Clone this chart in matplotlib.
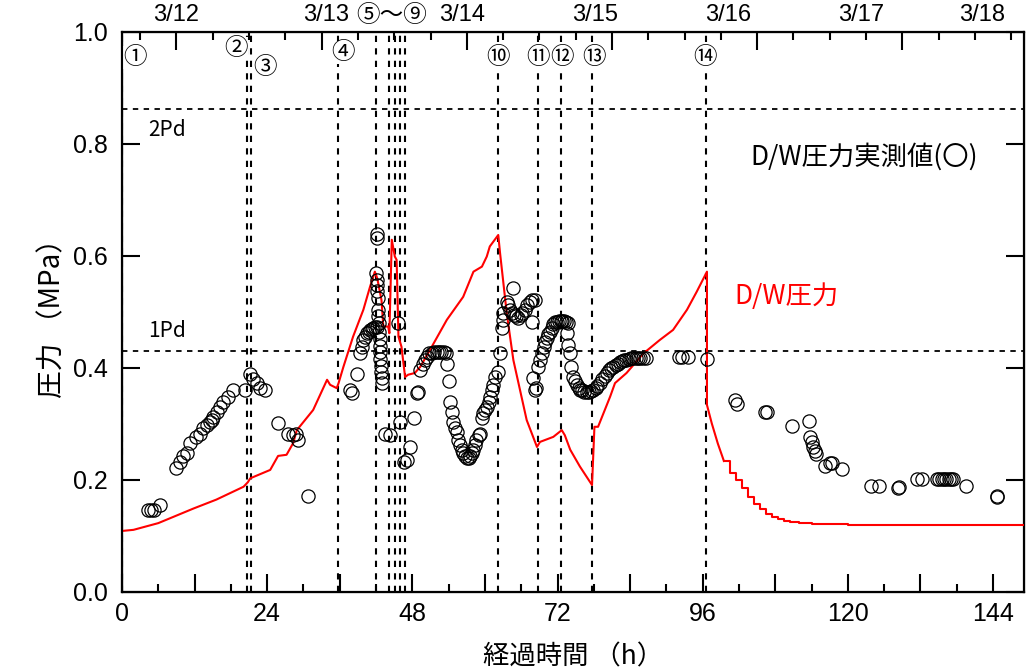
import matplotlib
matplotlib.use('Agg')
import matplotlib.pyplot as plt
from matplotlib.ticker import FixedLocator, NullFormatter

# フォント設定（数字は Arial 系、日本語は Noto CJK）
plt.rcParams['font.family'] = ['Liberation Sans', 'Noto Sans CJK JP', 'DejaVu Sans']
plt.rcParams['axes.unicode_minus'] = False
JP = ['Noto Sans CJK JP', 'DejaVu Sans']

# --- D/W圧力（解析, 赤線） ---
dw_t = [0, 1.9, 6.0, 11.8, 15.6, 20.1, 20.8, 21.2, 24.5, 25.8, 27.2, 28.3, 28.9, 31.6, 33.9,
        34.4, 35.5, 35.8, 36.6, 38.2, 39.9, 41.0, 41.8, 42.2, 42.9, 43.2, 44.0, 44.2, 44.6,
        45.1, 45.4, 45.7, 46.2, 46.8, 47.3, 48.4, 49.3, 50.9, 53.7, 56.4, 58.1, 59.5, 60.3,
        60.8, 62.2, 62.5, 63.6, 64.7, 66.9, 68.6, 69.1, 71.3, 72.7, 73.2, 74.1, 75.7, 77.7,
        78.1, 78.7, 80.7, 81.5, 83.4, 86.2, 88.9, 91.1, 93.4, 95.0, 96.7, 96.7, 97.5, 98.5, 99.5]
dw_p = [0.109, 0.111, 0.123, 0.149, 0.165, 0.188, 0.196, 0.203, 0.218, 0.243, 0.245, 0.266, 0.289, 0.325, 0.379,
        0.370, 0.364, 0.373, 0.402, 0.456, 0.504, 0.545, 0.572, 0.560, 0.521, 0.474, 0.474, 0.462, 0.629,
        0.599, 0.593, 0.456, 0.438, 0.384, 0.388, 0.391, 0.402, 0.432, 0.486, 0.527, 0.572, 0.581, 0.599,
        0.617, 0.6375, 0.605, 0.498, 0.414, 0.307, 0.259, 0.268, 0.277, 0.289, 0.280, 0.254, 0.224, 0.191,
        0.295, 0.295, 0.349, 0.373, 0.391, 0.426, 0.450, 0.468, 0.504, 0.536, 0.572, 0.334, 0.301, 0.265, 0.234]

# 3/16以降の減圧（階段状）
decay_t = [99.5, 100.5, 101.5, 102.5, 103.5, 104.5, 105.5, 106.5, 107.5, 108.5, 109.5, 110.5,
           112.0, 114.0, 116.0, 120.0, 150.0]
decay_p = [0.234, 0.212, 0.200, 0.186, 0.170, 0.158, 0.148, 0.140, 0.134, 0.130, 0.127, 0.125,
           0.124, 0.122, 0.121, 0.120, 0.120]

# --- D/W圧力実測値（○） ---
obs_t = [4.3, 4.8, 5.3, 6.2,
         9.0, 9.6, 10.1, 10.7, 11.2, 12.3, 12.9, 13.4, 14.0, 14.5, 14.8, 15.1, 15.7, 16.2, 16.7, 17.6, 18.4,
         20.3, 21.2, 21.7, 22.3, 22.8, 23.6,
         25.8, 27.5, 28.3, 28.8, 29.1, 30.8,
         37.7, 38.0, 38.8, 39.3, 39.6, 39.9, 40.2, 40.5, 40.8, 41.0, 41.3, 41.5, 41.8, 42.1,
         42.1, 42.1, 42.0, 42.1, 42.2, 42.2, 42.3, 42.4, 42.4, 42.5, 42.5, 42.6, 42.6, 42.7, 42.7, 42.8, 42.8, 42.9, 42.9,
         43.5, 44.3, 45.7, 45.9, 46.6, 47.1, 47.6, 48.3, 48.7, 49.0, 49.3, 49.8, 50.1, 50.4, 50.8, 51.2, 51.6,
         52.0, 52.4, 52.8, 53.2, 53.5, 53.7, 54.0, 54.2, 54.5, 54.8, 55.0, 55.3, 55.6, 55.9, 56.2, 56.4, 56.7,
         57.0, 57.3, 57.6, 57.9, 58.1, 58.4, 58.6, 59.0, 59.2, 59.5, 59.7, 60.0, 60.3, 60.6, 60.8, 61.1, 61.4,
         61.7, 62.2, 62.5, 62.8, 63.0, 63.0, 63.6, 64.7, 63.8, 64.1, 64.4, 64.8, 65.1, 65.5, 65.9, 66.2, 66.6,
         67.0, 67.4, 67.7, 68.3, 67.7,
         68.0, 68.3, 68.5, 68.8, 69.1, 69.4, 69.7, 70.0, 70.2, 70.5, 70.8, 71.1, 71.3, 71.6, 71.9, 72.2, 72.5,
         72.8, 73.1, 73.4, 73.7, 73.5, 73.8, 74.1, 74.3, 74.6, 74.9, 75.2, 75.5, 75.7, 76.0, 76.4, 76.8, 77.2,
         77.6, 77.9, 78.3, 78.6, 79.0, 79.4, 79.8, 80.1, 80.5, 80.9, 81.2, 81.6, 82.0, 82.3, 82.7, 83.0, 83.4,
         83.8, 84.1, 84.5, 84.9, 85.3, 85.6, 86.1, 86.7,
         92.0, 92.5, 93.6, 96.7,
         101.3, 101.7, 106.3, 106.7, 110.8, 113.6, 113.8, 114.0, 114.3, 114.6, 114.8, 116.2, 117.0, 117.3,
         119.1, 123.9, 125.1, 128.3, 128.4, 131.5, 132.3, 134.7, 135.1, 135.5, 135.9, 136.3, 136.7, 137.1,
         137.4, 139.5, 144.6, 144.7]
obs_p = [0.146, 0.146, 0.146, 0.155,
         0.221, 0.233, 0.242, 0.248, 0.266, 0.277, 0.283, 0.292, 0.298, 0.304, 0.308, 0.312, 0.322, 0.331, 0.340, 0.349, 0.361,
         0.361, 0.390, 0.381, 0.373, 0.364, 0.361,
         0.301, 0.283, 0.280, 0.283, 0.271, 0.171,
         0.361, 0.355, 0.390, 0.426, 0.438, 0.450, 0.456, 0.462, 0.465, 0.468, 0.470, 0.471, 0.473, 0.474,
         0.640, 0.632, 0.569, 0.558, 0.548, 0.538, 0.525, 0.504, 0.492, 0.480, 0.465, 0.452, 0.440, 0.428, 0.416, 0.404, 0.392, 0.382, 0.373,
         0.283, 0.280, 0.480, 0.304, 0.232, 0.236, 0.259, 0.310, 0.355, 0.358, 0.396, 0.408, 0.414, 0.420, 0.426, 0.426, 0.429,
         0.429, 0.429, 0.429, 0.429, 0.426, 0.408, 0.376, 0.340, 0.322, 0.304, 0.292, 0.286, 0.271, 0.262, 0.254, 0.248, 0.242,
         0.239, 0.240, 0.243, 0.249, 0.254, 0.262, 0.271, 0.280, 0.283, 0.310, 0.319, 0.325, 0.331, 0.340, 0.349, 0.361, 0.370,
         0.384, 0.393, 0.426, 0.471, 0.486, 0.498, 0.518, 0.542, 0.512, 0.504, 0.498, 0.494, 0.492, 0.490, 0.494, 0.498, 0.504,
         0.512, 0.518, 0.521, 0.521, 0.483,
         0.382, 0.361, 0.365, 0.402, 0.414, 0.426, 0.438, 0.447, 0.453, 0.460, 0.465, 0.472, 0.478, 0.482, 0.483, 0.484, 0.484,
         0.484, 0.484, 0.483, 0.480, 0.462, 0.441, 0.426, 0.402, 0.384, 0.376, 0.370, 0.365, 0.361, 0.360, 0.358, 0.358, 0.358,
         0.359, 0.361, 0.364, 0.368, 0.373, 0.380, 0.386, 0.391, 0.396, 0.400, 0.402, 0.405, 0.408, 0.410, 0.412, 0.414, 0.414,
         0.416, 0.417, 0.417, 0.417, 0.417, 0.417, 0.417, 0.417,
         0.420, 0.420, 0.420, 0.416,
         0.343, 0.336, 0.321, 0.321, 0.296, 0.305, 0.277, 0.268, 0.259, 0.251, 0.246, 0.225, 0.231, 0.231,
         0.220, 0.190, 0.190, 0.185, 0.188, 0.201, 0.201, 0.201, 0.201, 0.201, 0.201, 0.201, 0.201, 0.201,
         0.201, 0.190, 0.171, 0.170]

# --- 事象（①～⑭）の時刻 ---
event_t = [0.0, 20.6, 21.4, 35.7, 42.0, 44.2, 45.1, 46.0, 46.8, 62.2, 68.7, 72.6, 77.7, 96.5]
event_lbl = ['①', '②', '③', '④', '⑩', '⑪', '⑫', '⑬', '⑭']
event_lbl_x = [2.1, 18.8, 23.6, 36.5, 62.2, 68.8, 72.7, 78.0, 96.4]
event_lbl_y = [0.955, 0.971, 0.937, 0.964, 0.955, 0.955, 0.955, 0.955, 0.955]

# 日付ラベル（上側）
day_lbl = ['3/12', '3/13', '3/14', '3/15', '3/16', '3/17', '3/18']
day_x = [9.0, 33.7, 56.2, 78.2, 100.2, 122.2, 142.2]

pd1 = 0.431
pd2 = 0.862

fig = plt.figure(figsize=(10.27, 6.69), dpi=100)
ax = fig.add_axes([0.1188, 0.1151, 0.8782, 0.8371])

# 設計圧力 1Pd / 2Pd
ax.axhline(pd2, color='black', linestyle=(0, (3, 3)), linewidth=1.3, zorder=1)
ax.axhline(pd1, color='black', linestyle=(0, (3, 3)), linewidth=1.3, zorder=1)
for t in event_t:
    ax.axvline(t, color='black', linestyle=(0, (3, 3)), linewidth=1.5, zorder=1)

ax.plot(dw_t, dw_p, color='red', linewidth=1.5, zorder=3)
ax.plot(decay_t, decay_p, color='red', linewidth=1.5, drawstyle='steps-post', zorder=3)
ax.plot(obs_t, obs_p, linestyle='none', marker='o', markersize=9.5, markerfacecolor='none',
        markeredgecolor='black', markeredgewidth=0.9, zorder=4)

# 事象番号
for lbl, x, y in zip(event_lbl, event_lbl_x, event_lbl_y):
    ax.text(x, y, lbl, ha='center', va='center', fontsize=17, family=JP, zorder=5,
            bbox=dict(facecolor='white', edgecolor='none', pad=0.0))
ax.text(44.6, 1.03, '⑤～⑨', ha='center', va='center', fontsize=17, family=JP, clip_on=False)
for lbl, x in zip(day_lbl, day_x):
    ax.text(x, 1.03, lbl, ha='center', va='center', fontsize=17, clip_on=False)

ax.text(4.3, 0.825, '2Pd', fontsize=15, va='center', family=JP)
ax.text(4.3, 0.466, '1Pd', fontsize=15, va='center', family=JP)
ax.text(103.8, 0.777, 'D/W圧力実測値(〇)', fontsize=19, va='center', family=JP)
ax.text(101.3, 0.527, 'D/W圧力', fontsize=19, va='center', color='red', family=JP)

ax.set_xlim(0, 149.1)
ax.set_ylim(0, 1.0)
ax.set_xticks(range(0, 145, 12))
ax.set_xticklabels([str(v) if v % 24 == 0 else '' for v in range(0, 145, 12)])
ax.xaxis.set_minor_locator(FixedLocator(range(6, 150, 12)))
ax.set_yticks([0, 0.2, 0.4, 0.6, 0.8, 1.0])
ax.set_yticklabels(['0.0', '0.2', '0.4', '0.6', '0.8', '1.0'])
ax.tick_params(axis='both', which='major', direction='in', length=13, width=1.5, labelsize=18, pad=7)
ax.tick_params(axis='y', which='major', pad=10)
ax.tick_params(axis='x', which='minor', direction='in', length=6, width=1.5)
ax.tick_params(axis='y', right=True)
ax.tick_params(axis='x', top=False)
for s in ax.spines.values():
    s.set_linewidth(1.6)

# 上側の時刻目盛（6時間毎, 0時が長い）
top = ax.twiny()
top.set_xlim(ax.get_xlim())
top.set_xticks([9, 33, 57, 81, 105, 129])
top.xaxis.set_minor_locator(FixedLocator([3, 15, 21, 27, 39, 45, 51, 63, 69, 75, 87, 93, 99, 111, 117, 123, 135, 141, 147]))
top.xaxis.set_major_formatter(NullFormatter())
top.tick_params(axis='x', which='major', direction='in', length=13, width=1.5)
top.tick_params(axis='x', which='minor', direction='in', length=6, width=1.5)

ax.set_xlabel('経過時間 （h）', fontsize=19, labelpad=13, family=JP)
ax.set_ylabel('圧力 （MPa）', fontsize=20, labelpad=4, family=JP)

fig.savefig('out.png', dpi=100)
